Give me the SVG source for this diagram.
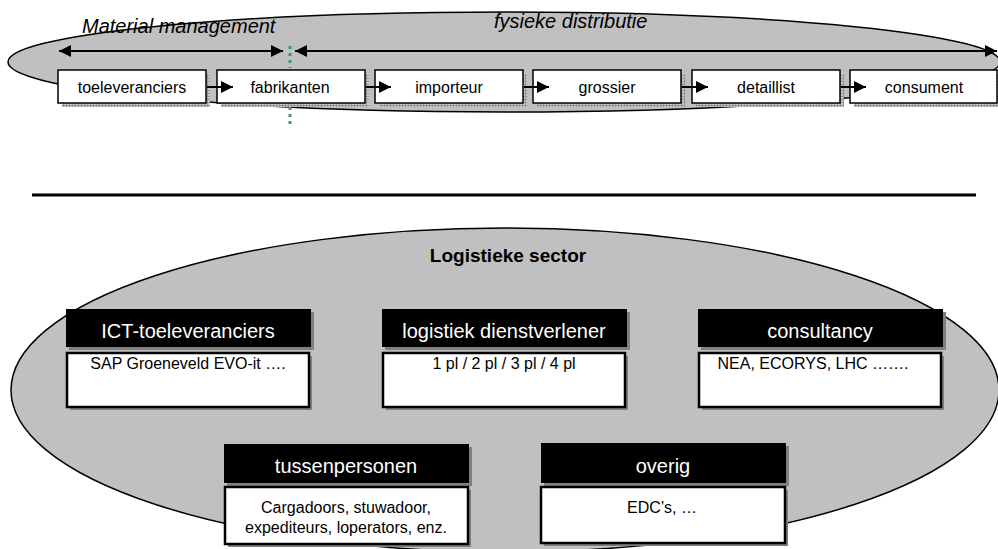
<svg xmlns="http://www.w3.org/2000/svg" width="998" height="549" viewBox="0 0 998 549">
<style>
text{font-family:"Liberation Sans",Arial,sans-serif;fill:#000}
.lbl{font-size:16px;text-anchor:middle}
.hdr{font-size:20px;text-anchor:middle;fill:#fff}
.body{font-size:16px;text-anchor:middle}
.it{font-size:20px;font-style:italic}
.box{fill:#fff;stroke:#000;stroke-width:1.5}
.hbox{fill:#000}
.bbox{fill:#fff;stroke:#000;stroke-width:2.5}
.sh{fill:#808080}
.msh{fill:url(#mesh)}
.conn{stroke:#000;stroke-width:2;fill:none}
</style>
<defs>
<pattern id="mesh" width="3" height="3" patternUnits="userSpaceOnUse">
<rect width="3" height="3" fill="#c8c8c8"/>
<path d="M0 0.5H3M0.5 0V3" stroke="#8a8a8a" stroke-width="0.8"/>
</pattern>
<marker id="ah" viewBox="0 0 12 12" refX="12" refY="6" markerWidth="12" markerHeight="12" markerUnits="userSpaceOnUse" orient="auto-start-reverse">
<path d="M0 0L12 6L0 12Z" fill="#000"/>
</marker>
</defs>
<rect width="998" height="549" fill="#fff"/>

<g id="top-ellipse">
<ellipse cx="504" cy="62" rx="496" ry="50" fill="#c0c0c0" stroke="#000" stroke-width="1.5"/>
</g>

<g id="labels-top">
<text class="it" x="82" y="33">Material management</text>
<text class="it" x="494" y="28">fysieke distributie</text>
</g>

<g id="toeleveranciers">
<rect class="msh" x="62" y="74" width="148" height="33"/>
<rect class="box" x="58" y="70" width="148" height="33"/>
<text class="lbl" x="132" y="93">toeleveranciers</text>
</g>
<g id="fabrikanten">
<rect class="msh" x="221" y="74" width="148" height="33"/>
<rect class="box" x="217" y="70" width="148" height="33"/>
<text class="lbl" x="290" y="93">fabrikanten</text>
</g>
<g id="importeur">
<rect class="msh" x="379" y="74" width="148" height="33"/>
<rect class="box" x="375" y="70" width="148" height="33"/>
<text class="lbl" x="449" y="93">importeur</text>
</g>
<g id="grossier">
<rect class="msh" x="537" y="74" width="148" height="33"/>
<rect class="box" x="533" y="70" width="148" height="33"/>
<text class="lbl" x="607" y="93">grossier</text>
</g>
<g id="detaillist">
<rect class="msh" x="696" y="74" width="148" height="33"/>
<rect class="box" x="692" y="70" width="148" height="33"/>
<text class="lbl" x="766" y="93">detaillist</text>
</g>
<g id="consument">
<rect class="msh" x="854" y="74" width="148" height="33"/>
<rect class="box" x="850" y="70" width="147" height="33"/>
<text class="lbl" x="924" y="93">consument</text>
</g>

<g id="connectors">
<line class="conn" x1="59" y1="51" x2="283" y2="51" marker-start="url(#ah)" marker-end="url(#ah)"/>
<line class="conn" x1="295" y1="51" x2="997" y2="51" marker-start="url(#ah)" marker-end="url(#ah)"/>
<line class="conn" x1="207" y1="87" x2="233" y2="87" marker-end="url(#ah)"/>
<line class="conn" x1="366" y1="87" x2="391" y2="87" marker-end="url(#ah)"/>
<line class="conn" x1="524" y1="87" x2="549" y2="87" marker-end="url(#ah)"/>
<line class="conn" x1="682" y1="87" x2="708" y2="87" marker-end="url(#ah)"/>
<line class="conn" x1="841" y1="87" x2="866" y2="87" marker-end="url(#ah)"/>
<line x1="290" y1="46" x2="290" y2="68" stroke="#3a9a6e" stroke-width="3" stroke-dasharray="3 4"/>
<line x1="290" y1="107" x2="290" y2="124" stroke="#3a9a6e" stroke-width="3" stroke-dasharray="3 4"/>
</g>

<g id="divider">
<line x1="32" y1="195" x2="976" y2="195" stroke="#000" stroke-width="3"/>
</g>

<g id="logistieke-sector">
<ellipse cx="505" cy="390" rx="494" ry="162" fill="#c0c0c0" stroke="#000" stroke-width="1.5"/>
<text x="508" y="262" font-size="19" font-weight="bold" text-anchor="middle">Logistieke sector</text>
</g>

<g id="ict">
<rect class="sh" x="69" y="312" width="245" height="38"/>
<rect class="hbox" x="66" y="309" width="245" height="38"/>
<text class="hdr" x="188" y="338">ICT-toeleveranciers</text>
<rect class="sh" x="70" y="356" width="242" height="54"/>
<rect class="bbox" x="67" y="353" width="242" height="54"/>
<text class="body" x="188" y="369">SAP Groeneveld EVO-it ….</text>
</g>
<g id="dienstverlener">
<rect class="sh" x="385" y="312" width="245" height="38"/>
<rect class="hbox" x="382" y="309" width="245" height="38"/>
<text class="hdr" x="504" y="338">logistiek dienstverlener</text>
<rect class="sh" x="386" y="356" width="242" height="54"/>
<rect class="bbox" x="383" y="353" width="242" height="54"/>
<text class="body" x="504" y="369">1 pl / 2 pl / 3 pl / 4 pl</text>
</g>
<g id="consultancy">
<rect class="sh" x="701" y="312" width="245" height="38"/>
<rect class="hbox" x="698" y="309" width="245" height="38"/>
<text class="hdr" x="820" y="338">consultancy</text>
<rect class="sh" x="702" y="356" width="242" height="54"/>
<rect class="bbox" x="699" y="353" width="242" height="54"/>
<text class="body" x="813" y="369">NEA, ECORYS, LHC …….</text>
</g>
<g id="tussenpersonen">
<rect class="sh" x="227" y="447" width="245" height="39"/>
<rect class="hbox" x="224" y="444" width="245" height="39"/>
<text class="hdr" x="346" y="473">tussenpersonen</text>
<rect class="sh" x="228" y="490" width="243" height="57"/>
<rect class="bbox" x="225" y="487" width="243" height="57"/>
<text class="body" x="346" y="513">Cargadoors, stuwadoor,</text>
<text class="body" x="346" y="533">expediteurs, loperators, enz.</text>
</g>
<g id="overig">
<rect class="sh" x="544" y="446" width="245" height="40"/>
<rect class="hbox" x="541" y="443" width="245" height="40"/>
<text class="hdr" x="663" y="473">overig</text>
<rect class="sh" x="544" y="490" width="244" height="56"/>
<rect class="bbox" x="541" y="487" width="244" height="56"/>
<text class="body" x="662" y="513">EDC’s, …</text>
</g>
</svg>
